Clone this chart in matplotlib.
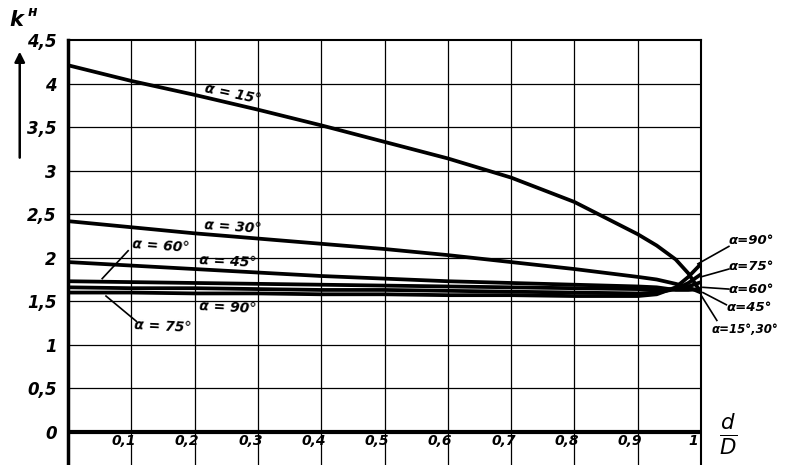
import matplotlib.pyplot as plt

# d/D values
x = [0, 0.1, 0.2, 0.3, 0.4, 0.5, 0.6, 0.7, 0.8, 0.9, 0.93, 0.96, 0.98, 1.0]

# k^н for each angle alpha
k15 = [4.21, 4.03, 3.87, 3.70, 3.52, 3.33, 3.14, 2.92, 2.64, 2.27, 2.14, 1.98, 1.82, 1.60]
k30 = [2.42, 2.35, 2.28, 2.22, 2.16, 2.10, 2.03, 1.95, 1.87, 1.78, 1.75, 1.70, 1.66, 1.60]
k45 = [1.95, 1.91, 1.87, 1.83, 1.79, 1.76, 1.73, 1.71, 1.69, 1.67, 1.66, 1.63, 1.63, 1.64]
k60 = [1.73, 1.72, 1.71, 1.70, 1.69, 1.68, 1.67, 1.66, 1.65, 1.64, 1.63, 1.64, 1.67, 1.72]
k75 = [1.66, 1.65, 1.65, 1.64, 1.63, 1.63, 1.62, 1.61, 1.60, 1.59, 1.60, 1.64, 1.71, 1.81]
k90 = [1.60, 1.60, 1.59, 1.59, 1.58, 1.58, 1.57, 1.57, 1.56, 1.56, 1.58, 1.66, 1.78, 1.93]

xticks = [0.1, 0.2, 0.3, 0.4, 0.5, 0.6, 0.7, 0.8, 0.9, 1.0]
xlabels = ['0,1', '0,2', '0,3', '0,4', '0,5', '0,6', '0,7', '0,8', '0,9', '1']
yticks = [0, 0.5, 1, 1.5, 2, 2.5, 3, 3.5, 4, 4.5]
ylabels = ['0', '0,5', '1', '1,5', '2', '2,5', '3', '3,5', '4', '4,5']

fnt = dict(fontweight='bold', fontstyle='italic', color='black')

fig = plt.figure(figsize=(7.89, 4.65), dpi=100)
ax = fig.add_axes([0.0862, 0.0, 0.8023, 0.914])
ax.set_xlim(0, 1.0)
ax.set_ylim(-0.38, 4.5)

# grid
for xv in xticks[:-1]:
    ax.axvline(xv, color='black', lw=0.9, zorder=1)
for yv in yticks[1:-1]:
    ax.axhline(yv, color='black', lw=0.9, zorder=1)
ax.axhline(0, color='black', lw=3, zorder=2)

# curves
for k in [k15, k30, k45, k60, k75, k90]:
    ax.plot(x, k, color='black', lw=2.7, solid_capstyle='round', zorder=3)

# spines
for s in ['top', 'right']:
    ax.spines[s].set_linewidth(1.5)
ax.spines['left'].set_linewidth(2.5)
ax.spines['bottom'].set_visible(False)

ax.set_xticks([])
ax.set_yticks(yticks)
ax.set_yticklabels(ylabels, fontsize=12, fontweight='bold', fontstyle='italic')
ax.tick_params(axis='y', length=0, pad=8)

for xv, lab in zip(xticks, xlabels):
    ax.text(xv - 0.012, -0.1, lab, ha='center', va='center', fontsize=10, **fnt)

# curve labels inside the plot
ax.text(0.26, 3.88, 'α = 15°', rotation=-12, ha='center', va='center', fontsize=10, **fnt)
ax.text(0.26, 2.35, 'α = 30°', rotation=-4, ha='center', va='center', fontsize=10, **fnt)
ax.text(0.253, 1.96, 'α = 45°', rotation=-3, ha='center', va='center', fontsize=10, **fnt)
ax.text(0.146, 2.14, 'α = 60°', rotation=-4, ha='center', va='center', fontsize=10, **fnt)
ax.text(0.15, 1.21, 'α = 75°', rotation=-3, ha='center', va='center', fontsize=10, **fnt)
ax.text(0.253, 1.43, 'α = 90°', rotation=-3, ha='center', va='center', fontsize=10, **fnt)
ax.plot([0.095, 0.054], [2.08, 1.76], color='black', lw=1.2, zorder=3)
ax.plot([0.108, 0.06], [1.27, 1.56], color='black', lw=1.2, zorder=3)

# labels on the right
right = [('α=90°', 2.20, 1.044, 9.5, (1.044, 2.13), (0.995, 1.93)),
         ('α=75°', 1.90, 1.044, 9.5, (1.044, 1.87), (1.0, 1.78)),
         ('α=60°', 1.63, 1.044, 9.5, (1.044, 1.64), (1.003, 1.66)),
         ('α=45°', 1.43, 1.040, 9.5, (1.04, 1.46), (1.003, 1.60)),
         ('α=15°,30°', 1.18, 1.017, 8.5, (1.025, 1.28), (1.0, 1.57))]
for lab, yv, xl, fs, p0, p1 in right:
    ax.text(xl, yv, lab, ha='left', va='center', fontsize=fs, clip_on=False, **fnt)
    ax.plot([p0[0], p1[0]], [p0[1], p1[1]], color='black', lw=1.2, clip_on=False, zorder=3)

# axis titles
fig.text(0.012, 0.945, 'k', fontsize=15, **fnt)
fig.text(0.035, 0.965, 'н', fontsize=10, **fnt)
ax.annotate('', xy=(0.025, 0.895), xytext=(0.025, 0.655), xycoords='figure fraction',
            arrowprops=dict(arrowstyle='-|>', color='black', lw=1.8, mutation_scale=15))
fig.text(0.923, 0.065, r'$\frac{d}{D}$', fontsize=22, ha='center', va='center',
         fontweight='bold')

fig.savefig('out.png', dpi=100)
